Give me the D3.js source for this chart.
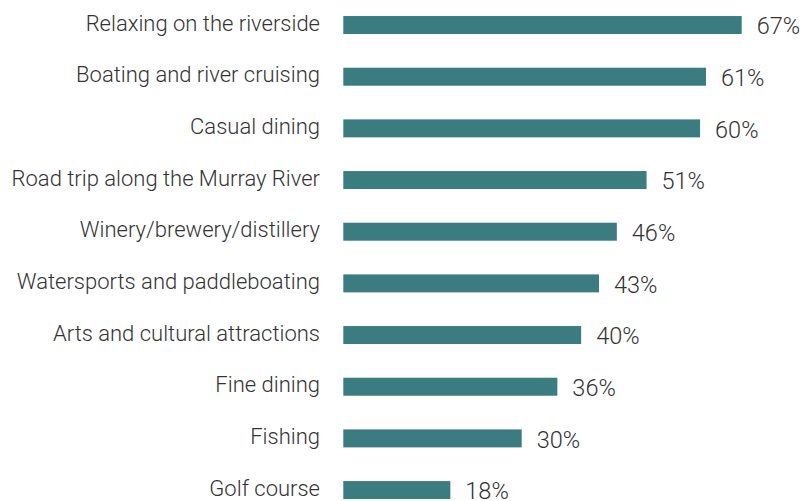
<!DOCTYPE html>
<html>
<head>
<meta charset="utf-8">
<script src="https://cdn.jsdelivr.net/npm/d3@7"></script>
<style>
  body { margin: 0; background: #fff; }
  text { font-family: Roboto, "Noto Sans", sans-serif; font-weight: 300; fill: #333; }
</style>
</head>
<body>
<svg id="chart"></svg>
<script>
var categories = [
  "Relaxing on the riverside",
  "Boating and river cruising",
  "Casual dining",
  "Road trip along the Murray River",
  "Winery/brewery/distillery",
  "Watersports and paddleboating",
  "Arts and cultural attractions",
  "Fine dining",
  "Fishing",
  "Golf course"
];
var values = [67, 61, 60, 51, 46, 43, 40, 36, 30, 18];

var w = 801;
var h = 501;
var xLeft = 343.3;

var svg = d3.select("#chart")
  .attr("width", w)
  .attr("height", h);

var xScale = d3.scaleLinear()
  .domain([0, 67])
  .range([xLeft, 741.7]);

var yScale = d3.scaleBand()
  .domain(categories)
  .range([-0.8, 515.9])
  .paddingInner(0.652)
  .paddingOuter(0.326);

svg.selectAll("rect.bar")
  .data(values)
  .enter()
  .append("rect")
  .attr("class", "bar")
  .attr("x", xScale(0))
  .attr("y", function(d, i){ return yScale(categories[i]); })
  .attr("width", function(d){ return xScale(d) - xScale(0); })
  .attr("height", yScale.bandwidth())
  .attr("fill", "#3a7c80");

svg.selectAll("text.cat")
  .data(categories)
  .enter()
  .append("text")
  .attr("class", "cat")
  .attr("x", 320)
  .attr("y", function(d){ return yScale(d) + yScale.bandwidth()/2 - 2; })
  .attr("dy", "0.35em")
  .attr("text-anchor", "end")
  .attr("font-size", "22px")
  .text(function(d){ return d; });

svg.selectAll("text.val")
  .data(values)
  .enter()
  .append("text")
  .attr("class", "val")
  .attr("x", function(d){ return xScale(d) + 15; })
  .attr("y", function(d, i){ return yScale(categories[i]) + yScale.bandwidth()/2 + 1; })
  .attr("dy", "0.35em")
  .attr("font-size", "23.5px")
  .text(function(d){ return d + "%"; });
</script>
</body>
</html>
